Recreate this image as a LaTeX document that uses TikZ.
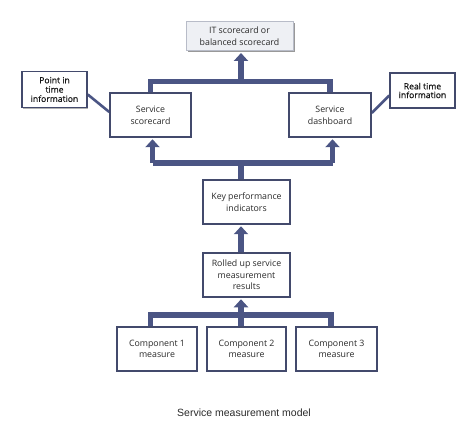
\documentclass[tikz,border=0pt]{standalone}
\usepackage{fontspec}
\setmainfont{Open Sans}
\newfontfamily\capfont{Liberation Sans}
\newfontfamily\semib[FakeBold=0.5]{Open Sans}
\usetikzlibrary{arrows.meta,shadows,calc,backgrounds}
\definecolor{barc}{HTML}{4B5584}
\definecolor{boxc}{HTML}{434A6C}
\definecolor{itfill}{HTML}{EEF0F4}
\definecolor{itline}{HTML}{B8BCC8}
\definecolor{txt}{HTML}{2A2A2A}
\definecolor{stxt}{HTML}{151515}
\tikzset{
  mbox/.style={draw=boxc, line width=1.5pt, fill=white,
    font=\fontsize{8.8}{11.7}\selectfont, text=txt, inner sep=0pt, align=center,
    drop shadow={shadow xshift=1.2pt, shadow yshift=-1.2pt, fill=black!30, opacity=1}},
  sbox/.style={mbox, font=\semib\fontsize{8.6}{9.3}\selectfont, text=stxt},
  itbox/.style={draw=itline, line width=1pt, fill=itfill, align=center,
    font=\fontsize{8.8}{11.7}\selectfont, text=txt, inner sep=0pt,
    drop shadow={shadow xshift=1.5pt, shadow yshift=-1.5pt, fill=black!40, opacity=1}},
  bar/.style={draw=barc, line width=5.5pt, line join=miter},
  arr/.style={-{Triangle[width=14pt,length=8pt]}, shorten >=1.5pt},
  thin/.style={draw=barc, line width=2.6pt},
}
\begin{document}
\begin{tikzpicture}[x=1pt,y=-1pt]
\useasboundingbox (0,0) rectangle (463,430);
\coordinate (tb) at (241,81.5);
\coordinate (mb) at (241,163);
\coordinate (ml) at (152.5,163);
\coordinate (mr) at (332.5,163);
\coordinate (bb) at (241,315);
\coordinate (bl) at (150.5,315);
\coordinate (br) at (331,315);
% boxes
\node[itbox, minimum width=107pt, minimum height=29pt] (it) at (239.5,36.5) {IT scorecard or\\balanced scorecard};
\node[mbox, minimum width=81pt, minimum height=44pt] (ssc) at (150.5,115) {Service\\scorecard};
\node[mbox, minimum width=82pt, minimum height=44pt] (sdb) at (330,115) {Service\\dashboard};
\node[sbox, minimum width=65pt, minimum height=36pt] (pit) at (54.5,89.5) {Point in\\time\\information};
\node[sbox, minimum width=65pt, minimum height=35pt, font=\semib\fontsize{8.6}{8.7}\selectfont] (rti) at (422.5,90.5) {Real time\\information};
\node[mbox, minimum width=87pt, minimum height=44pt] (kpi) at (246.5,202) {Key performance\\indicators};
\node[mbox, minimum width=87pt, minimum height=44pt] (rol) at (246.5,275) {Rolled up service\\measurement\\results};
\node[mbox, minimum width=80pt, minimum height=44pt] (c1) at (157,349) {Component 1\\measure};
\node[mbox, minimum width=79pt, minimum height=44pt] (c2) at (246.5,349) {Component 2\\measure};
\node[mbox, minimum width=81pt, minimum height=44pt] (c3) at (336.5,349) {Component 3\\measure};
\node[font=\capfont\fontsize{10.5}{12}\selectfont, text=txt] (cap) at (244,413) {Service measurement model};
% connectors
\begin{scope}[on background layer]
\draw[bar] (ssc.north) |- (tb) -| (sdb.north);
\draw[bar,arr] (tb) -- (tb |- it.south);
\draw[bar] (kpi.north -| mb) -- (mb);
\draw[bar] (ml) -- (mr);
\draw[bar,arr] (ml) -- (ml |- ssc.south);
\draw[bar,arr] (mr) -- (mr |- sdb.south);
\draw[bar,arr] (rol.north -| mb) -- (mb |- kpi.south);
\draw[bar] (bl |- c1.north) -- (bl) -- (br) -- (br |- c3.north);
\draw[bar] (bb |- c2.north) -- (bb);
\draw[bar,arr] (bb) -- (bb |- rol.south);
\draw[thin] ($(pit.east)+(0,5)$) -- ($(ssc.west)+(0,-3)$);
\draw[thin] ($(sdb.east)+(0,-2)$) -- ($(rti.west)+(0,5)$);
\end{scope}
\end{tikzpicture}
\end{document}
